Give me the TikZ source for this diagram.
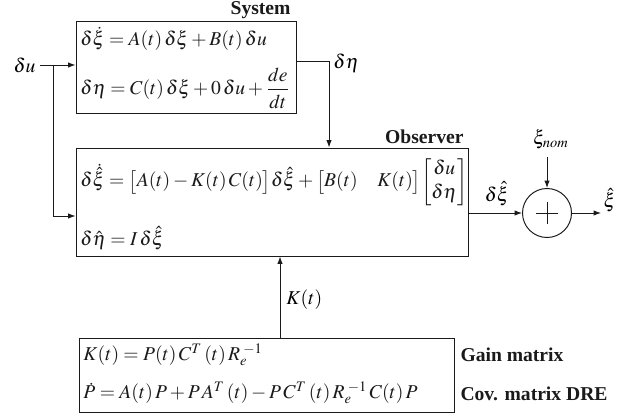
\documentclass[tikz,border=0pt]{standalone}
\usepackage{amsmath}
\usepackage{mathptmx}
\usepackage{fontspec}
\setmainfont{Liberation Serif}
\usepackage{xcolor}
\usepackage{tikz}
\usetikzlibrary{positioning, arrows.meta, calc}
\definecolor{ink}{HTML}{1A1A1A}
\newdimen\pxu
\pxu=0.51pt

\begin{document}
\begin{tikzpicture}[x=\pxu, y=-\pxu, line width=0.5pt,
    blockbox/.style={draw=ink, rectangle, inner sep=0pt},
    sig/.style={draw=ink, -{Latex[length=3.8pt, width=2.8pt]}},
    eqn/.style={anchor=west, inner sep=0pt, text=ink},
    tag/.style={font=\bfseries, inner sep=0pt, text=ink}]
  \useasboundingbox (0,0) rectangle (636,417);

  % blocks
  \node[blockbox, minimum width=220*\pxu, minimum height=92*\pxu]
    (sys) at (186, 67) {};
  \node[blockbox, minimum width=392*\pxu, minimum height=108*\pxu]
    (obs) at (272, 202) {};
  \node[blockbox, minimum width=375*\pxu, minimum height=74*\pxu]
    (gain) at (266.5, 375) {};
  \node[draw=ink, circle, minimum size=49*\pxu, inner sep=0pt,
    path picture={\draw[ink] (path picture bounding box.center) +(-11,0) -- +(11,0)
      (path picture bounding box.center) +(0,-11) -- +(0,11);}]
    (sum) at (547, 213) {};

  % block titles
  \node[tag, anchor=base east] (systag) at (291, 15) {System};
  \node[tag, anchor=base east] (obstag) at (464, 144) {Observer};
  \node[tag, anchor=west] (gaintag) at (460, 355) {Gain matrix};
  \node[tag, anchor=west] (covtag) at (460, 394) {Cov. matrix DRE};

  % equations
  \node[eqn] (sys1) at (80, 39)
    {$\delta\dot{\xi} = A(t)\,\delta\xi + B(t)\,\delta u$};
  \node[eqn] (sys2) at (80, 88)
    {$\delta\eta = C(t)\,\delta\xi + 0\,\delta u + \dfrac{de}{dt}$};
  \node[eqn] (obs1) at (80, 182)
    {$\delta\dot{\hat{\xi}} = \big[A(t) - K(t)\,C(t)\big]\delta\hat{\xi}
      + \big[B(t)\quad K(t)\big]\!\begin{bmatrix}\delta u\\ \delta\eta\end{bmatrix}$};
  \node[eqn] (obs2) at (80, 238) {$\delta\hat{\eta} = I\,\delta\hat{\xi}$};
  \node[eqn] (gain1) at (83, 355)
    {$K(t) = P(t)\,C^T\,(t)\,R_e^{\;-1}$};
  \node[eqn] (gain2) at (83, 393)
    {$\dot{P} = A(t)\,P + P\,A^T\,(t) - P\,C^T\,(t)\,R_e^{\;-1}\,C(t)\,P$};

  % signal labels
  \node[anchor=east, inner sep=0pt] (du) at (36, 65) {$\delta u$};
  \node[anchor=west, inner sep=0pt] (deta) at (333, 63) {$\delta\eta$};
  \node[anchor=west, inner sep=0pt] (kt) at (286, 300) {$K(t)$};
  \node[anchor=south, inner sep=0pt] (dxi) at (497, 206) {$\delta\hat{\xi}$};
  \node[inner sep=0pt] (xinom) at (551, 139) {$\xi_{nom}$};
  \node[anchor=west, inner sep=0pt] (xihat) at (603, 200) {$\hat{\xi}$};

  \coordinate (split) at (53, 65);
  \coordinate (etax) at (329, 61);
  \coordinate (kx) at (280, 0);

  % connectors
  \draw[sig] ([xshift=2pt]du.east) -- (du -| sys.west);
  \draw[sig] (split) |- ([yshift=-14*\pxu]obs.west);
  \draw[sig] ([yshift=6*\pxu]sys.east) -| (obs.north -| etax);
  \draw[sig] (gain.north -| kx) -- (obs.south -| kx);
  \draw[sig] (obs.east |- sum) -- (sum.west);
  \draw[sig] ([yshift=-4pt]xinom.south -| sum) -- (sum.north);
  \draw[sig] (sum.east) -- (sum.east -| 601,0);
\end{tikzpicture}
\end{document}
